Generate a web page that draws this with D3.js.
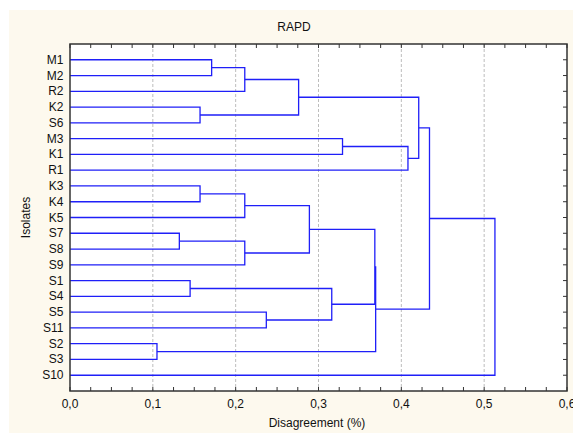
<!DOCTYPE html>
<html>
<head>
<meta charset="utf-8">
<script src="https://cdn.jsdelivr.net/npm/d3@7.9.0/dist/d3.min.js"></script>
<style>
  body { margin: 0; background: #fff; }
  svg { display: block; font-family: "Liberation Sans", Arial, sans-serif; }
</style>
</head>
<body>
<svg id="chart"></svg>
<script>
// leaf order top to bottom
const leaves = ["M1", "M2", "R2", "K2", "S6", "M3", "K1", "R1", "K3", "K4", "K5",
                "S7", "S8", "S9", "S1", "S4", "S5", "S11", "S2", "S3", "S10"];

// joins: [child a, child b, linkage distance]; "nX" = result of join X
const merges = [
  ["M1", "M2", 0.171],   // n0
  ["n0", "R2", 0.211],   // n1
  ["K2", "S6", 0.157],   // n2
  ["n1", "n2", 0.276],   // n3
  ["M3", "K1", 0.329],   // n4
  ["n4", "R1", 0.408],   // n5
  ["n3", "n5", 0.421],   // n6
  ["K3", "K4", 0.157],   // n7
  ["n7", "K5", 0.211],   // n8
  ["S7", "S8", 0.132],   // n9
  ["n9", "S9", 0.211],   // n10
  ["n8", "n10", 0.289],  // n11
  ["S1", "S4", 0.145],   // n12
  ["S5", "S11", 0.237],  // n13
  ["n12", "n13", 0.316], // n14
  ["n11", "n14", 0.368], // n15
  ["S2", "S3", 0.105],   // n16
  ["n15", "n16", 0.369], // n17
  ["n6", "n17", 0.434],  // n18
  ["n18", "S10", 0.513]  // n19
];

const xTicks = [0, 0.1, 0.2, 0.3, 0.4, 0.5, 0.6];
const xMinorTicks = d3.range(0, 0.6001, 0.025);

const width = 573, height = 435;
const m = { left: 70, right: 567, top: 44, bottom: 391 };

const svg = d3.select("#chart").attr("width", width).attr("height", height);

// cream panel + white plot area
svg.append("rect").attr("x", 9).attr("y", 10).attr("width", width - 9).attr("height", 423)
  .attr("fill", "#fdf9ee");
svg.append("rect").attr("x", m.left).attr("y", m.top)
  .attr("width", m.right - m.left).attr("height", m.bottom - m.top)
  .attr("fill", "#fff");

const x = d3.scaleLinear().domain([0, 0.6]).range([m.left, m.right]);
const y = d3.scalePoint().domain(leaves).range([m.top, m.bottom]).padding(1);

// grid
svg.append("g").selectAll("line")
  .data(xTicks.slice(1, -1))
  .join("line")
  .attr("x1", d => x(d)).attr("x2", d => x(d))
  .attr("y1", m.top).attr("y2", m.bottom)
  .attr("stroke", "#bdbdbd").attr("stroke-dasharray", "3,2");

// build node positions
const nodes = {};
leaves.forEach(l => nodes[l] = { y: y(l), h: 0 });
const links = [];
merges.forEach(([a, b, h], i) => {
  const A = nodes[a], B = nodes[b];
  nodes["n" + i] = { y: (A.y + B.y) / 2, h: h };
  links.push({ A, B, h });
});

svg.append("g").selectAll("path")
  .data(links)
  .join("path")
  .attr("d", d => `M${x(d.A.h)},${d.A.y}H${x(d.h)}V${d.B.y}H${x(d.B.h)}`)
  .attr("fill", "none")
  .attr("stroke", "#1f1ff8")
  .attr("stroke-width", 1.3);

// frame
svg.append("rect").attr("x", m.left).attr("y", m.top)
  .attr("width", m.right - m.left).attr("height", m.bottom - m.top)
  .attr("fill", "none").attr("stroke", "#333").attr("stroke-width", 1.5);

// ticks on top/bottom/right (inside)
const tk = svg.append("g").attr("stroke", "#333");
tk.selectAll(".tt").data(xMinorTicks).join("line").attr("class", "tt")
  .attr("x1", d => x(d)).attr("x2", d => x(d)).attr("y1", m.top).attr("y2", m.top + 4);
tk.selectAll(".tb").data(xMinorTicks).join("line").attr("class", "tb")
  .attr("x1", d => x(d)).attr("x2", d => x(d)).attr("y1", m.bottom).attr("y2", m.bottom - 4);
tk.selectAll(".tr").data(leaves).join("line").attr("class", "tr")
  .attr("x1", m.right).attr("x2", m.right - 4).attr("y1", d => y(d)).attr("y2", d => y(d));

// labels
const fmt = d => d3.format(".1f")(d).replace(".", ",");
svg.append("g").selectAll("text").data(xTicks).join("text")
  .attr("x", d => x(d)).attr("y", 408)
  .attr("text-anchor", "middle").attr("font-size", 12).attr("fill", "#111")
  .text(fmt);

svg.append("g").selectAll("text").data(leaves).join("text")
  .attr("x", 63.5).attr("y", d => y(d) + 4)
  .attr("text-anchor", "end").attr("font-size", 12).attr("fill", "#111")
  .text(d => d);

svg.append("text").attr("x", 294).attr("y", 31)
  .attr("text-anchor", "middle").attr("font-size", 12).attr("fill", "#111").text("RAPD");

svg.append("text").attr("x", 317).attr("y", 427)
  .attr("text-anchor", "middle").attr("font-size", 12).attr("fill", "#111").text("Disagreement (%)");

svg.append("text").attr("transform", `translate(30,${(m.top + m.bottom) / 2}) rotate(-90)`)
  .attr("text-anchor", "middle").attr("font-size", 12).attr("fill", "#111").text("Isolates");
</script>
</body>
</html>
